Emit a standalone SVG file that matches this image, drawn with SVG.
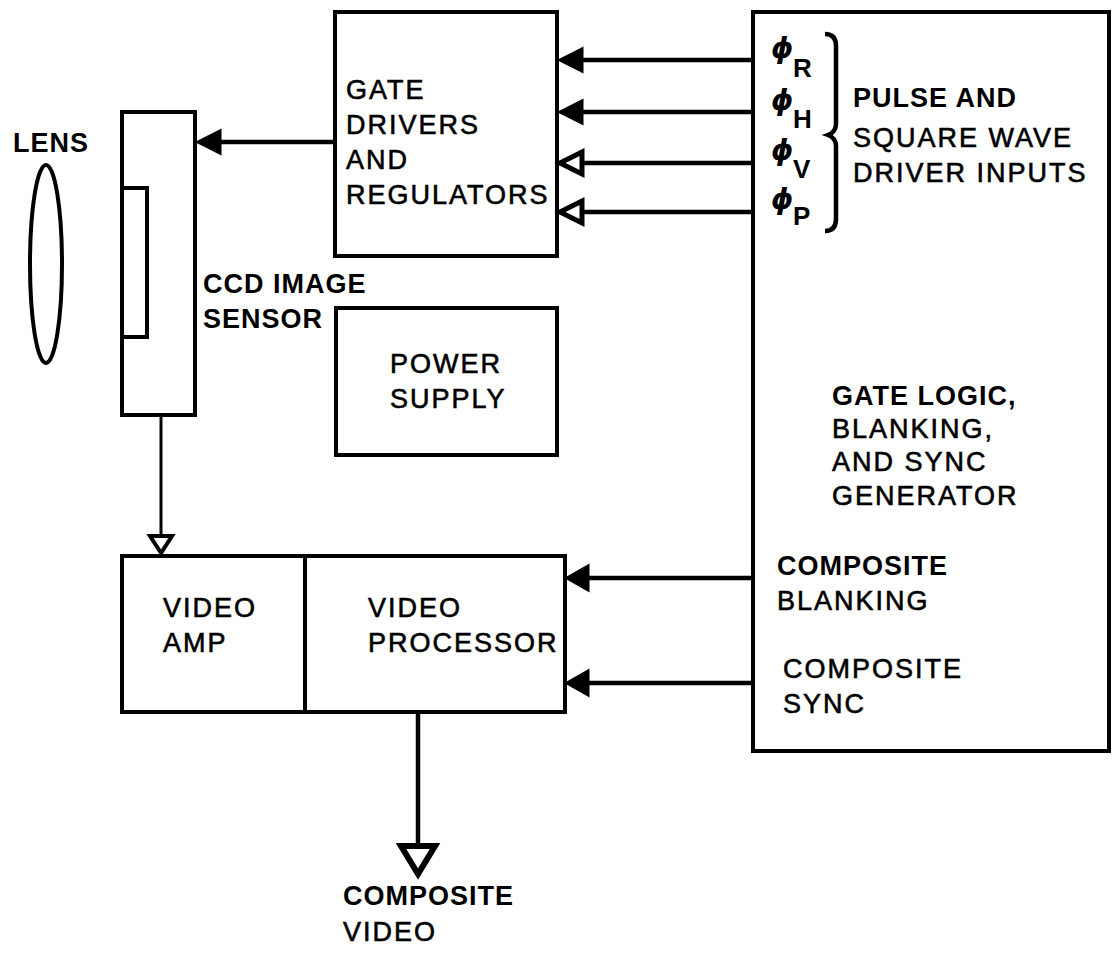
<svg xmlns="http://www.w3.org/2000/svg" width="1115" height="954" viewBox="0 0 1115 954">
<style>
.box{fill:none;stroke:#000;stroke-width:4}
.ln{fill:none;stroke:#000;stroke-width:4.5}
.ah{fill:#000;stroke:#000;stroke-width:3;stroke-linejoin:miter}
.ho{fill:#fff;stroke:#000;stroke-width:5;stroke-linejoin:miter}
text{font-family:"Liberation Sans",Arial,sans-serif;font-size:27px;fill:#000;stroke:#000;stroke-width:0.6;letter-spacing:2px}
.b{font-weight:bold;stroke-width:0;letter-spacing:1px}
.phi{font-family:"DejaVu Sans",sans-serif;font-style:italic;font-weight:bold;font-size:28px;stroke-width:0;letter-spacing:0}
.sub{font-weight:bold;font-size:26px;stroke-width:0;letter-spacing:0}
</style>
<rect width="1115" height="954" fill="#fff"/>

<g id="lens">
<ellipse cx="46" cy="264" rx="16" ry="99" class="box"/>
<text x="13" y="152" class="b">LENS</text>
</g>

<g id="ccd">
<rect x="122" y="112" width="73" height="303" class="box"/>
<rect x="122" y="188" width="25" height="149" class="box"/>
<text x="203" y="293" class="b">CCD IMAGE</text>
<text x="203" y="328" class="b">SENSOR</text>
</g>

<g id="gate-drivers">
<rect x="335" y="12" width="222" height="244" class="box"/>
<text x="346" y="99">GATE</text>
<text x="346" y="134">DRIVERS</text>
<text x="346" y="169">AND</text>
<text x="346" y="204">REGULATORS</text>
</g>

<g id="power-supply">
<rect x="336" y="308" width="221" height="147" class="box"/>
<text x="390" y="373">POWER</text>
<text x="390" y="408">SUPPLY</text>
</g>

<g id="video">
<rect x="122" y="556" width="443" height="156" class="box"/>
<line x1="305" y1="556" x2="305" y2="712" class="box"/>
<text x="163" y="617">VIDEO</text>
<text x="163" y="652">AMP</text>
<text x="368" y="617">VIDEO</text>
<text x="368" y="652">PROCESSOR</text>
</g>

<g id="gate-logic">
<rect x="753" y="12" width="356" height="739" class="box"/>
<text x="771" y="58" class="phi">ϕ</text><text x="793" y="77" class="sub">R</text>
<text x="771" y="110" class="phi">ϕ</text><text x="793" y="128" class="sub">H</text>
<text x="771" y="160" class="phi">ϕ</text><text x="793" y="178" class="sub">V</text>
<text x="771" y="209" class="phi">ϕ</text><text x="793" y="225" class="sub">P</text>
<path d="M825,34 Q836,34 836,46 L836,124 Q836,132 828,135 Q836,138 836,146 L836,219 Q836,231 825,231" class="ln"/>
<text x="853" y="107" class="b">PULSE AND</text>
<text x="853" y="147">SQUARE WAVE</text>
<text x="853" y="182">DRIVER INPUTS</text>
<text x="832" y="405" class="b">GATE LOGIC,</text>
<text x="832" y="438">BLANKING,</text>
<text x="832" y="471">AND SYNC</text>
<text x="832" y="505">GENERATOR</text>
<text x="777" y="575" class="b">COMPOSITE</text>
<text x="777" y="610">BLANKING</text>
<text x="783" y="678">COMPOSITE</text>
<text x="783" y="713">SYNC</text>
</g>

<g id="composite-video-label">
<text x="343" y="905" class="b">COMPOSITE</text>
<text x="343" y="941">VIDEO</text>
</g>

<g id="connectors">
<line x1="220" y1="142" x2="335" y2="142" class="ln"/>
<polygon points="198,142 220,131 220,153" class="ah"/>
<line x1="582" y1="60" x2="753" y2="60" class="ln"/>
<polygon points="560,60 582,49 582,71" class="ah"/>
<line x1="582" y1="112" x2="753" y2="112" class="ln"/>
<polygon points="560,112 582,101 582,123" class="ah"/>
<line x1="582" y1="163" x2="753" y2="163" class="ln"/>
<polygon points="560,163 582,152 582,174" class="ho"/>
<line x1="582" y1="212" x2="753" y2="212" class="ln"/>
<polygon points="560,212 582,201 582,223" class="ho"/>
<line x1="161" y1="415" x2="161" y2="536" class="ln" style="stroke-width:3"/>
<polygon points="161,553 150,536 172,536" class="ho" style="stroke-width:4"/>
<line x1="588" y1="578" x2="753" y2="578" class="ln"/>
<polygon points="567,578 588,566 588,590" class="ah"/>
<line x1="588" y1="683" x2="753" y2="683" class="ln"/>
<polygon points="567,683 588,671 588,695" class="ah"/>
<line x1="418" y1="712" x2="418" y2="846" class="ln"/>
<polygon points="418,874 401,846 435,846" class="ho" style="stroke-width:6"/>
</g>
</svg>
